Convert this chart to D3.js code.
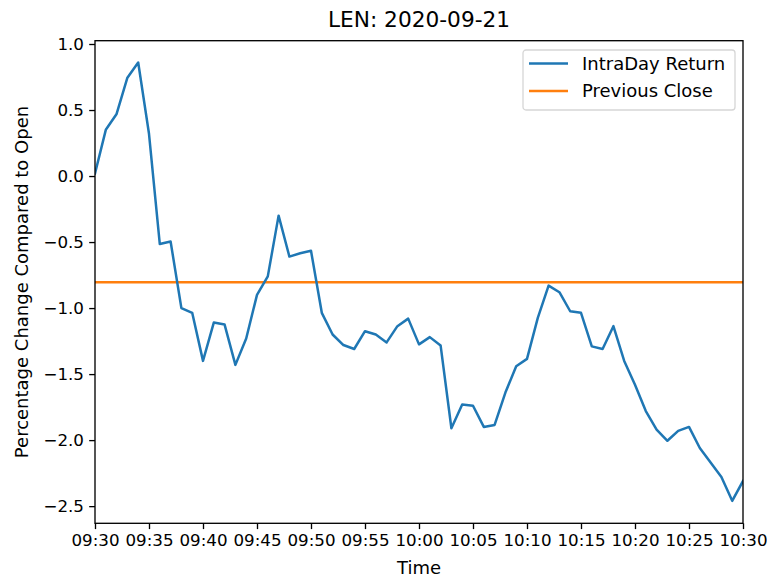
<!DOCTYPE html>
<html>
<head>
<meta charset="utf-8">
<script src="https://cdn.jsdelivr.net/npm/d3@7"></script>
<style>
  body { margin: 0; background: #fff; }
  text { font-family: "DejaVu Sans", sans-serif; fill: #000; }
</style>
</head>
<body>
<div id="chart"></div>
<script>
// minute stamps, one per point
var times = ["09:30","09:31","09:32","09:33","09:34","09:35","09:36","09:37","09:38","09:39",
    "09:40","09:41","09:42","09:43","09:44","09:45","09:46","09:47","09:48","09:49",
    "09:50","09:51","09:52","09:53","09:54","09:55","09:56","09:57","09:58","09:59",
    "10:00","10:01","10:02","10:03","10:04","10:05","10:06","10:07","10:08","10:09",
    "10:10","10:11","10:12","10:13","10:14","10:15","10:16","10:17","10:18","10:19",
    "10:20","10:21","10:22","10:23","10:24","10:25","10:26","10:27","10:28","10:29","10:30"];

// intraday return, % vs open
var returns = [0.02, 0.35, 0.47, 0.745, 0.86, 0.32, -0.515, -0.496, -1.00, -1.036,
    -1.40, -1.11, -1.125, -1.43, -1.23, -0.90, -0.76, -0.30, -0.61, -0.585,
    -0.566, -1.036, -1.20, -1.28, -1.31, -1.175, -1.20, -1.26, -1.137, -1.08,
    -1.275, -1.22, -1.283, -1.91, -1.73, -1.74, -1.90, -1.885, -1.64, -1.44,
    -1.385, -1.074, -0.83, -0.88, -1.024, -1.036, -1.29, -1.31, -1.137, -1.40,
    -1.58, -1.78, -1.92, -2.005, -1.93, -1.90, -2.06, -2.17, -2.28, -2.46, -2.31];

var previousClose = -0.805;

var yTicks = [-2.5, -2.0, -1.5, -1.0, -0.5, 0.0, 0.5, 1.0];
var seriesNames = ["IntraDay Return", "Previous Close"];
var seriesColors = ["#1f77b4", "#ff7f0e"];

(function () {
    var W = 767, H = 577;
    var margin = {top: 40.7, right: 24, bottom: 53.7, left: 95};
    var width = W - margin.left - margin.right,
        height = H - margin.top - margin.bottom;
    var fs = 16.7;   // tick labels
    var lfs = 18;    // axis labels and legend

    var parse = d3.timeParse("%H:%M");
    var data = times.map(function (t, i) { return {t: parse(t), v: returns[i]}; });

    var x = d3.scaleTime()
        .domain([parse(times[0]), parse(times[times.length - 1])])
        .range([0, width]);

    var y = d3.scaleLinear()
        .domain([-2.63, 1.025])
        .range([height, 0]);

    var svg = d3.select("#chart").append("svg")
        .attr("width", W)
        .attr("height", H);

    var g = svg.append("g")
        .attr("transform", "translate(" + margin.left + "," + margin.top + ")");

    g.append("clipPath").attr("id", "clip")
        .append("rect").attr("width", width).attr("height", height);

    // previous close line
    g.append("line")
        .attr("clip-path", "url(#clip)")
        .attr("x1", 0).attr("x2", width)
        .attr("y1", y(previousClose)).attr("y2", y(previousClose))
        .attr("stroke", seriesColors[1])
        .attr("stroke-width", 2.5);

    // return line
    var line = d3.line()
        .x(function (d) { return x(d.t); })
        .y(function (d) { return y(d.v); });

    g.append("path")
        .datum(data)
        .attr("clip-path", "url(#clip)")
        .attr("fill", "none")
        .attr("stroke", seriesColors[0])
        .attr("stroke-width", 2.5)
        .attr("stroke-linejoin", "round")
        .attr("stroke-linecap", "square")
        .attr("d", line);

    // axes
    var xAxis = d3.axisBottom(x)
        .ticks(d3.timeMinute.every(5))
        .tickFormat(d3.timeFormat("%H:%M"))
        .tickSize(5.8).tickSizeOuter(0).tickPadding(5.2);

    var yAxis = d3.axisLeft(y)
        .tickValues(yTicks)
        .tickFormat(d3.format(".1f"))
        .tickSize(5.8).tickSizeOuter(0).tickPadding(5.2);

    var gx = g.append("g")
        .attr("transform", "translate(0," + height + ")")
        .call(xAxis);
    var gy = g.append("g").call(yAxis);

    [gx, gy].forEach(function (a) {
        a.select(".domain").remove();
        a.selectAll(".tick line").attr("stroke", "#000").attr("stroke-width", 1.33);
        a.selectAll(".tick text")
            .style("font-family", "DejaVu Sans")
            .style("font-size", fs + "px")
            .attr("fill", "#000");
    });

    // frame
    g.append("rect")
        .attr("width", width).attr("height", height)
        .attr("fill", "none")
        .attr("stroke", "#000")
        .attr("stroke-width", 1.33);

    // labels
    svg.append("text")
        .attr("x", margin.left + width / 2)
        .attr("y", 27)
        .attr("text-anchor", "middle")
        .style("font-size", "21.7px")
        .text("LEN: 2020-09-21");

    svg.append("text")
        .attr("x", margin.left + width / 2)
        .attr("y", 574)
        .attr("text-anchor", "middle")
        .style("font-size", lfs + "px")
        .text("Time");

    svg.append("text")
        .attr("transform", "translate(27.5," + (margin.top + height / 2) + ") rotate(-90)")
        .attr("text-anchor", "middle")
        .style("font-size", lfs + "px")
        .text("Percentage Change Compared to Open");

    // legend
    var lg = svg.append("g").attr("transform", "translate(523,50)");
    lg.append("rect")
        .attr("width", 212).attr("height", 60)
        .attr("rx", 3)
        .attr("fill", "#fff").attr("fill-opacity", 0.8)
        .attr("stroke", "#d6d6d6").attr("stroke-width", 1.3);

    seriesNames.forEach(function (name, i) {
        var ly = 13.5 + i * 27.4;
        lg.append("line")
            .attr("x1", 6).attr("x2", 45)
            .attr("y1", ly).attr("y2", ly)
            .attr("stroke", seriesColors[i])
            .attr("stroke-width", 2.5);
        lg.append("text")
            .attr("x", 59).attr("y", ly)
            .attr("dy", "0.36em")
            .style("font-size", lfs + "px")
            .text(name);
    });
})();
</script>
</body>
</html>
